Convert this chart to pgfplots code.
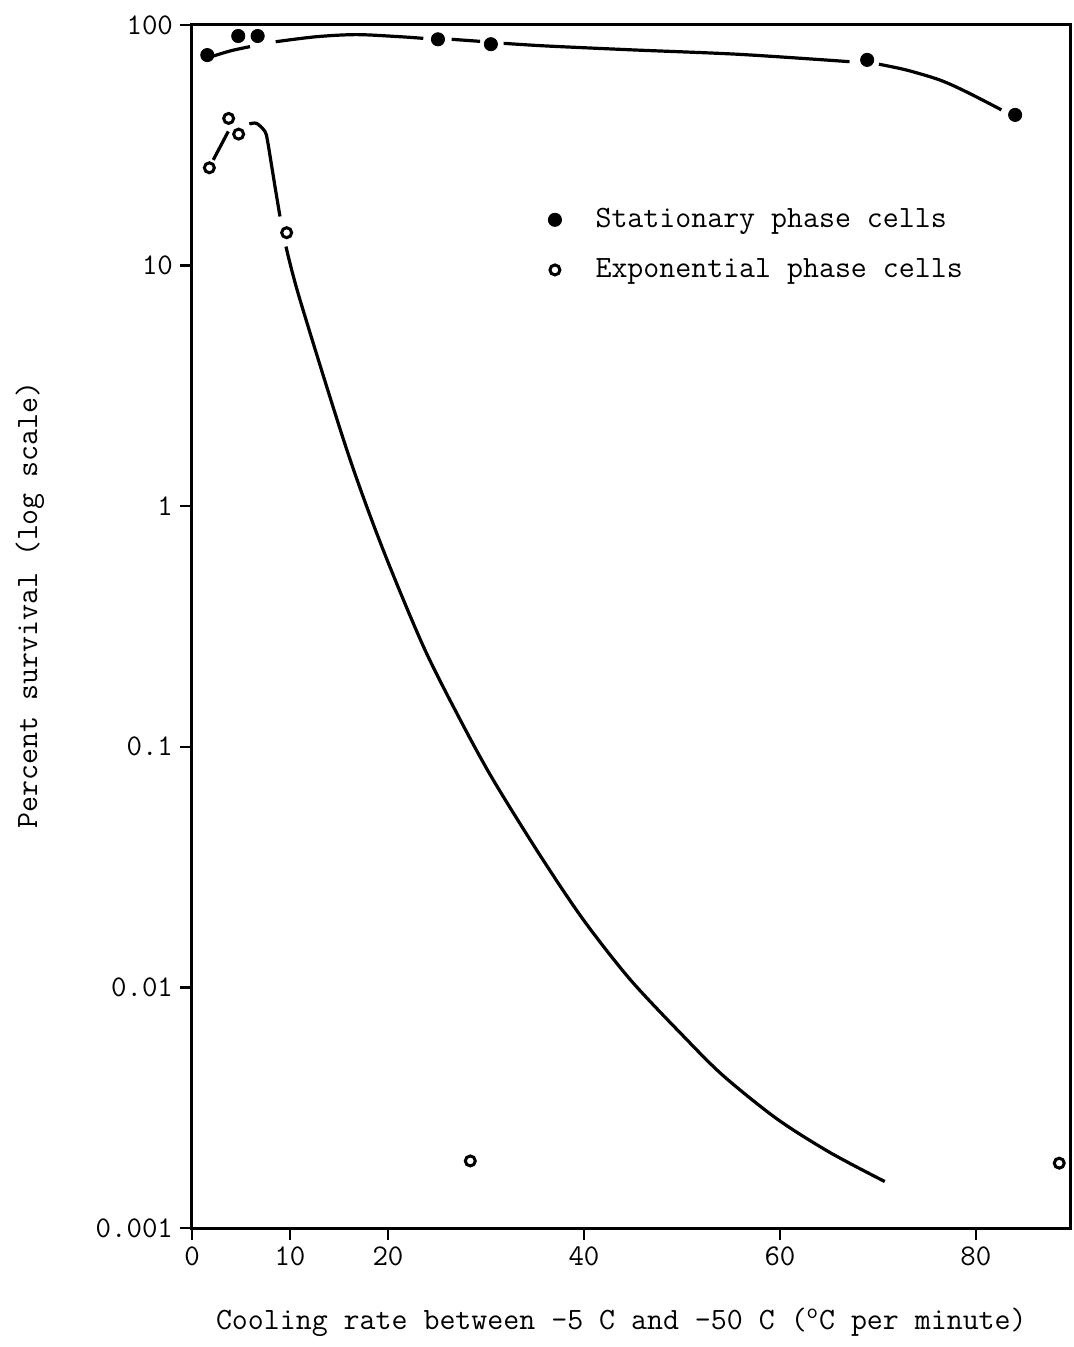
\documentclass[border=0pt]{standalone}
\usepackage{pgfplots}
\pgfplotsset{compat=1.18}
\begin{document}
\begin{tikzpicture}
\begin{axis}[
  name=ax,
  scale only axis,
  width=439pt, height=601.5pt,
  xmin=0, xmax=89.6,
  ymode=log, ymin=0.001, ymax=100,
  xtick={0,10,20,40,60,80},
  xticklabels={0,10,20,40,60,80},
  ytick={0.001,0.01,0.1,1,10,100},
  yticklabels={0.001,0.01,0.1,1,10,100},
  yminorticks=false, xminorticks=false,
  xtick pos=bottom, ytick pos=left,
  tick align=outside,
  major tick length=6pt,
  tick style={line width=1.2pt, black},
  axis line style={line width=1.5pt},
  ticklabel style={font=\fontsize{15}{17}\selectfont\ttfamily},
  label style={font=\fontsize{15.5}{18}\selectfont\ttfamily},
  xlabel={Cooling rate between -5 C and -50 C (\textsuperscript{o}C per minute)},
  ylabel={Percent survival (log scale)},
  xlabel style={at={(axis description cs:0.489,-0.078)}, anchor=center},
  ylabel style={at={(axis description cs:-0.1845,0.518)}, anchor=center},
  legend style={draw=none, fill=none, inner sep=0pt,
    at={(axis description cs:0.4054,0.851)}, anchor=north west,
    font=\fontsize{15.5}{18}\selectfont\ttfamily, row sep=10pt,
    /tikz/every odd column/.append style={column sep=15pt}},
  legend cell align=left,
]
% markers
\addplot[only marks, mark=*, mark size=3.3pt, black] coordinates {
 (1.56,75) (4.72,90) (6.7,90) (25.1,87.2) (30.5,83.2) (68.9,71.6) (84.0,42.3)};
\addlegendentry{Stationary phase cells}
\addplot[only marks, mark=o, mark size=2.5pt, black, mark options={line width=1.5pt}] coordinates {
 (1.77,25.5) (3.74,40.9) (4.76,35.2) (9.66,13.7) (28.4,0.0019) (88.5,0.00186)};
\addlegendentry{Exponential phase cells}
% stationary curve segments
\addplot[black, line width=1.6pt, smooth, forget plot] coordinates {(2.17,74.3) (4.0,78.2) (5.92,81.3)};
\addplot[black, line width=1.6pt, smooth, forget plot] coordinates {(8.54,85.2) (12.7,89.4) (16.8,91.2) (21.2,89.4) (23.6,88.0)};
\addplot[black, line width=1.6pt, smooth, forget plot] coordinates {(26.5,87.2) (29.4,85.5)};
\addplot[black, line width=1.6pt, smooth, forget plot] coordinates {(31.8,83.9) (36.2,81.8) (45,78.8) (55.9,75.5) (67.1,70.4)};
\addplot[black, line width=1.6pt, smooth, forget plot] coordinates {(70.1,68.7) (72.9,65.0) (76.3,59.1) (79.0,52.8) (82.6,44.4)};
% exponential curve segments
\addplot[black, line width=1.6pt, smooth, forget plot] coordinates {(2.17,27.5) (3.7,36.1)};
\addplot[black, line width=1.6pt, smooth, forget plot] coordinates {(5.85,38.8) (6.6,39.0) (7.45,36.1) (7.69,33.3) (8.03,27.5) (8.47,21.3) (8.98,16.0)};
\addplot[black, line width=1.6pt, smooth, forget plot] coordinates {
 (9.59,12.0) (11.02,7.21) (15.79,1.72) (19.36,0.682)
 (23.6,0.262) (27.35,0.130) (30.7,0.0733) (35.5,0.0355) (39.9,0.0192)
 (44.7,0.0108) (50.1,0.0063) (54.2,0.0043) (59.7,0.00284) (65.1,0.00206) (70.7,0.00156)};
\end{axis}
\pgfresetboundingbox
\path[use as bounding box] ([shift={(-96pt,-59.5pt)}]ax.south west) rectangle ([shift={(1.5pt,12.5pt)}]ax.north east);
\end{tikzpicture}
\end{document}
